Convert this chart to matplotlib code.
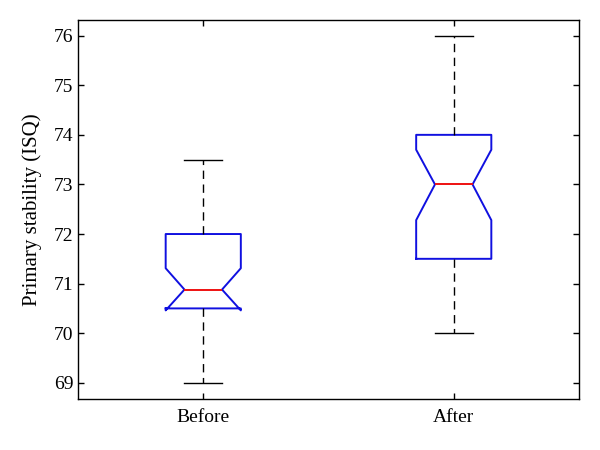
import matplotlib
matplotlib.use('Agg')
import matplotlib.pyplot as plt

# data
groups = ['Before', 'After']
whislo = [69.0, 70.0]
q1 = [70.5, 71.5]
med = [70.88, 73.0]
q3 = [72.0, 74.0]
whishi = [73.5, 76.0]
cilo = [70.46, 72.28]
cihi = [71.31, 73.70]

stats = []
for i in range(len(groups)):
    stats.append({'label': groups[i], 'whislo': whislo[i], 'q1': q1[i], 'med': med[i],
                  'q3': q3[i], 'whishi': whishi[i], 'cilo': cilo[i], 'cihi': cihi[i],
                  'fliers': []})

plt.rcParams['font.family'] = ['Liberation Serif', 'DejaVu Serif']
fig = plt.figure(figsize=(6, 4.5), dpi=100)
ax = fig.add_axes([0.13, 0.113, 0.835, 0.843])

ax.bxp(stats, positions=[1, 2], widths=0.3, shownotches=True, showfliers=False,
       boxprops=dict(color='#1010e0', linewidth=1.4),
       medianprops=dict(color='#ee1111', linewidth=1.4),
       whiskerprops=dict(color='black', linewidth=1.0, linestyle=(0, (6, 4))),
       capprops=dict(color='black', linewidth=1.0))

ax.set_xlim(0.5, 2.5)
ax.set_ylim(68.67, 76.32)
ax.set_yticks(range(69, 77))
ax.set_xticks([1, 2])
ax.set_xticklabels(groups)
ax.tick_params(direction='in', top=True, right=True, labelsize=14, length=4, width=1)
ax.tick_params(axis='x', pad=7)
ax.set_ylabel('Primary stability (ISQ)', fontsize=15, labelpad=8)
for s in ax.spines.values():
    s.set_linewidth(1.0)

plt.savefig('out.png', dpi=100)
